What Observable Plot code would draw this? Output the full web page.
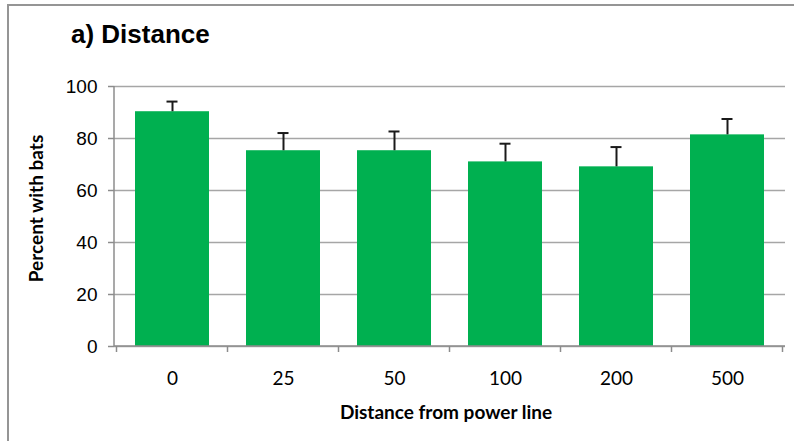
<!DOCTYPE html>
<html><head><meta charset="utf-8">
<script src="https://cdn.jsdelivr.net/npm/d3@7"></script>
<script src="https://cdn.jsdelivr.net/npm/@observablehq/plot@0.6"></script>
<style>
body{margin:0;background:#fff;}
#wrap{position:relative;width:794px;height:441px;overflow:hidden;background:#fff;}
#frame{position:absolute;left:7px;top:4px;width:900px;height:600px;border-left:2px solid #959595;border-top:2px solid #959595;pointer-events:none;}
#title{position:relative;height:33px;padding-top:22px;padding-left:71px;font-family:"Liberation Sans",Arial,sans-serif;font-weight:bold;font-size:26px;line-height:25px;color:#000;}
#chart svg{display:block;}
</style>
</head><body>
<div id="wrap">
  <div id="frame"></div>
  <div id="title">a) Distance</div>
  <div id="chart"></div>
</div>
<script>
const categories = ["0", "25", "50", "100", "200", "500"];
const values = [90.3, 75.3, 75.3, 71.0, 69.1, 81.4];
const errors = [3.9, 6.8, 7.4, 7.0, 7.6, 6.1];
const yTicks = [0, 20, 40, 60, 80, 100];
const yLabel = "Percent with bats";
const xLabel = "Distance from power line";

const data = categories.map((c, i) => ({cat: c, value: values[i], upper: values[i] + errors[i]}));

function axisLines(index, scales, vals, dims) {
  const {width, height, marginLeft, marginRight, marginTop, marginBottom} = dims;
  const x = scales.x;
  const y0 = height - marginBottom;
  const step = x.step ? x.step() : (width - marginLeft - marginRight) / categories.length;
  const bw = x.bandwidth ? x.bandwidth() : 0;
  const g = d3.create("svg:g").attr("stroke", "#8c8c8c").attr("stroke-width", 1.5).attr("fill", "none");
  g.append("line").attr("x1", marginLeft).attr("x2", marginLeft).attr("y1", marginTop).attr("y2", y0);
  g.append("line").attr("x1", marginLeft).attr("x2", width - marginRight).attr("y1", y0).attr("y2", y0);
  const bounds = categories.map(c => x(c) + bw / 2 - step / 2);
  bounds.push(x(categories[categories.length - 1]) + bw / 2 + step / 2);
  for (const b of bounds) {
    g.append("line").attr("x1", b).attr("x2", b).attr("y1", y0).attr("y2", y0 + 6);
  }
  return g.node();
}

const chart = Plot.plot({
  width: 794,
  height: 386,
  marginLeft: 114,
  marginRight: 9,
  marginTop: 31,
  marginBottom: 95,
  x: {domain: categories, paddingInner: 0.33, paddingOuter: 0.165, label: null},
  y: {domain: [0, 100], label: null},
  style: {background: "transparent", color: "#000"},
  marks: [
    Plot.ruleY(yTicks, {stroke: "#a6a6a6", strokeWidth: 1.5}),
    Plot.barY(data, {x: "cat", y: "value", fill: "#00b050"}),
    Plot.ruleX(data, {x: "cat", y1: "value", y2: "upper", stroke: "#1a1a1a", strokeWidth: 2}),
    Plot.tickY(data, {x: "cat", y: "upper", stroke: "#1a1a1a", strokeWidth: 2, insetLeft: 31.5, insetRight: 31.5}),
    axisLines,
    Plot.axisY({ticks: yTicks, tickSize: 6, tickPadding: 11, label: null, stroke: "#8c8c8c", strokeWidth: 1.5, fontSize: 19, fontFamily: "Liberation Sans", fill: "#000"}),
    Plot.axisX({tickSize: 0, tickPadding: 25, label: null, fontSize: 19, fontFamily: "Lato", fill: "#000"}),
    Plot.text([yLabel], {frameAnchor: "left", textAnchor: "middle", lineAnchor: "middle", rotate: -90, dx: -78, dy: -8, fontSize: 19, fontWeight: "bold", fontFamily: "Lato", fill: "#000"}),
    Plot.text([xLabel], {frameAnchor: "bottom", textAnchor: "middle", lineAnchor: "middle", dy: 66, dx: -4, fontSize: 19, fontWeight: "bold", fontFamily: "Lato", fill: "#000"})
  ]
});
document.getElementById("chart").appendChild(chart);
</script>
</body></html>
